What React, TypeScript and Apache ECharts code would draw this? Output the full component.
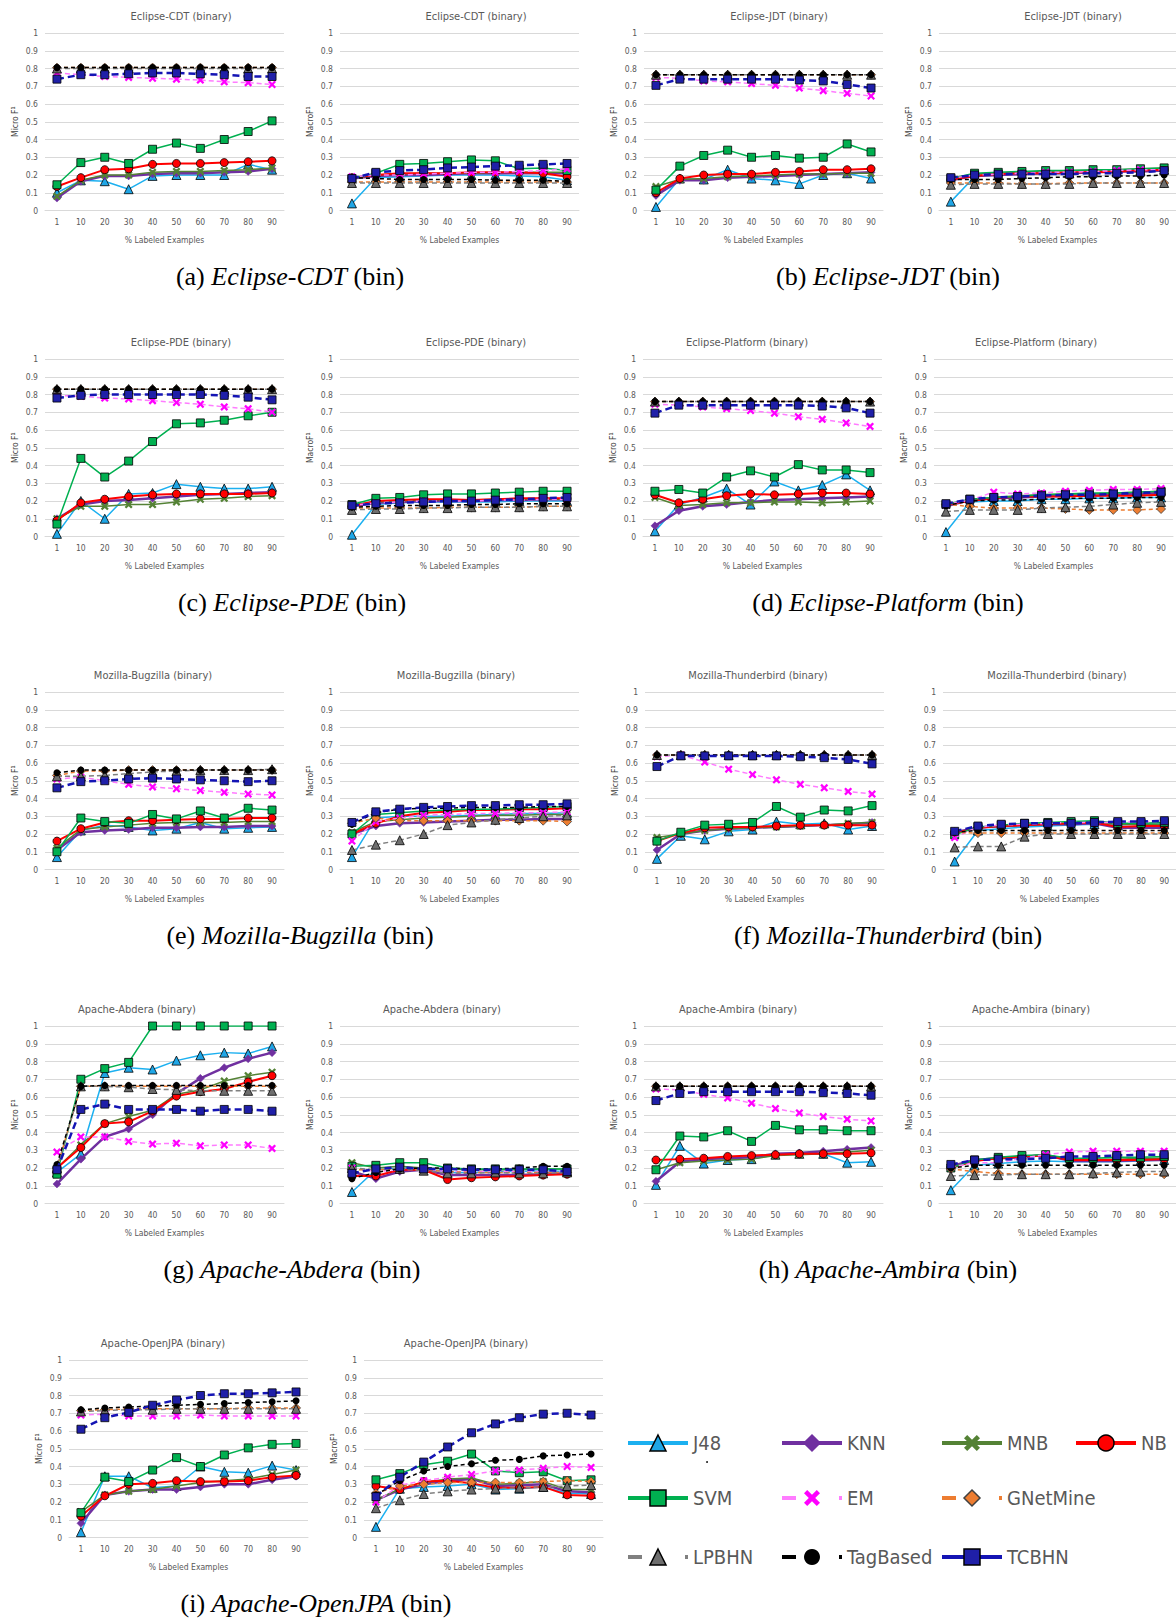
import React, { useEffect, useRef } from 'react';
import * as echarts from 'echarts';

const X_LABELS = ['1', '10', '20', '30', '40', '50', '60', '70', '80', '90'];
const METHODS = ['J48', 'KNN', 'MNB', 'NB', 'SVM', 'EM', 'GNetMine', 'LPBHN', 'TagBased', 'TCBHN'];

// each panel: rows in METHODS order
const cdtMicro = [
  [0.10, 0.17, 0.165, 0.12, 0.195, 0.20, 0.20, 0.20, 0.26, 0.23],
  [0.07, 0.165, 0.195, 0.195, 0.205, 0.21, 0.21, 0.215, 0.22, 0.235],
  [0.08, 0.17, 0.20, 0.20, 0.215, 0.22, 0.22, 0.225, 0.23, 0.24],
  [0.135, 0.185, 0.23, 0.235, 0.26, 0.265, 0.265, 0.27, 0.275, 0.28],
  [0.145, 0.27, 0.30, 0.265, 0.345, 0.38, 0.35, 0.40, 0.445, 0.505],
  [0.775, 0.765, 0.755, 0.75, 0.745, 0.74, 0.735, 0.725, 0.72, 0.71],
  [0.805, 0.805, 0.805, 0.805, 0.805, 0.805, 0.805, 0.805, 0.805, 0.805],
  [0.80, 0.80, 0.80, 0.80, 0.80, 0.80, 0.80, 0.80, 0.80, 0.80],
  [0.805, 0.805, 0.805, 0.805, 0.805, 0.805, 0.805, 0.805, 0.805, 0.805],
  [0.74, 0.765, 0.765, 0.77, 0.775, 0.775, 0.77, 0.765, 0.755, 0.755],
];
const cdtMacro = [
  [0.04, 0.185, 0.19, 0.195, 0.20, 0.20, 0.20, 0.195, 0.19, 0.17],
  [0.18, 0.195, 0.20, 0.20, 0.205, 0.21, 0.21, 0.21, 0.21, 0.21],
  [0.18, 0.20, 0.205, 0.21, 0.21, 0.21, 0.215, 0.215, 0.215, 0.215],
  [0.185, 0.20, 0.21, 0.21, 0.21, 0.215, 0.215, 0.215, 0.21, 0.19],
  [0.18, 0.21, 0.26, 0.265, 0.275, 0.285, 0.28, 0.235, 0.24, 0.225],
  [0.19, 0.20, 0.20, 0.205, 0.21, 0.215, 0.215, 0.22, 0.225, 0.235],
  [0.16, 0.16, 0.16, 0.16, 0.16, 0.16, 0.16, 0.16, 0.16, 0.16],
  [0.155, 0.155, 0.155, 0.155, 0.155, 0.155, 0.155, 0.155, 0.155, 0.155],
  [0.185, 0.18, 0.175, 0.175, 0.175, 0.175, 0.17, 0.17, 0.17, 0.165],
  [0.18, 0.215, 0.225, 0.23, 0.24, 0.245, 0.25, 0.255, 0.26, 0.265],
];
const jdtMicro = [
  [0.02, 0.18, 0.175, 0.23, 0.18, 0.17, 0.15, 0.20, 0.21, 0.18],
  [0.085, 0.17, 0.17, 0.185, 0.19, 0.195, 0.20, 0.205, 0.21, 0.215],
  [0.135, 0.175, 0.18, 0.19, 0.195, 0.20, 0.205, 0.205, 0.21, 0.21],
  [0.10, 0.18, 0.20, 0.205, 0.205, 0.215, 0.22, 0.23, 0.23, 0.235],
  [0.115, 0.25, 0.31, 0.34, 0.30, 0.31, 0.295, 0.30, 0.375, 0.33],
  [0.75, 0.745, 0.73, 0.725, 0.715, 0.705, 0.69, 0.675, 0.66, 0.645],
  [0.765, 0.765, 0.765, 0.765, 0.765, 0.765, 0.765, 0.765, 0.765, 0.765],
  [0.765, 0.765, 0.765, 0.765, 0.765, 0.765, 0.765, 0.765, 0.765, 0.765],
  [0.765, 0.765, 0.765, 0.765, 0.765, 0.765, 0.765, 0.765, 0.765, 0.765],
  [0.705, 0.74, 0.74, 0.74, 0.74, 0.74, 0.735, 0.73, 0.71, 0.69],
];
const jdtMacro = [
  [0.05, 0.19, 0.20, 0.205, 0.205, 0.21, 0.215, 0.22, 0.225, 0.23],
  [0.17, 0.195, 0.20, 0.205, 0.21, 0.21, 0.215, 0.22, 0.22, 0.225],
  [0.18, 0.205, 0.21, 0.215, 0.22, 0.225, 0.225, 0.23, 0.235, 0.24],
  [0.175, 0.195, 0.205, 0.21, 0.21, 0.215, 0.215, 0.22, 0.225, 0.23],
  [0.18, 0.21, 0.215, 0.22, 0.225, 0.225, 0.23, 0.23, 0.235, 0.24],
  [0.18, 0.20, 0.205, 0.21, 0.215, 0.215, 0.22, 0.225, 0.23, 0.23],
  [0.155, 0.155, 0.155, 0.15, 0.15, 0.155, 0.155, 0.155, 0.155, 0.155],
  [0.145, 0.15, 0.15, 0.15, 0.15, 0.15, 0.155, 0.155, 0.155, 0.155],
  [0.175, 0.175, 0.175, 0.18, 0.185, 0.19, 0.19, 0.195, 0.195, 0.20],
  [0.185, 0.20, 0.205, 0.205, 0.205, 0.205, 0.21, 0.21, 0.215, 0.225],
];
const pdeMicro = [
  [0.015, 0.20, 0.10, 0.24, 0.245, 0.295, 0.28, 0.27, 0.27, 0.28],
  [0.10, 0.18, 0.20, 0.205, 0.215, 0.225, 0.235, 0.24, 0.245, 0.25],
  [0.10, 0.17, 0.17, 0.18, 0.18, 0.195, 0.21, 0.215, 0.225, 0.23],
  [0.09, 0.19, 0.21, 0.225, 0.235, 0.24, 0.24, 0.24, 0.24, 0.245],
  [0.07, 0.44, 0.335, 0.425, 0.535, 0.635, 0.64, 0.655, 0.68, 0.70],
  [0.795, 0.79, 0.78, 0.775, 0.765, 0.755, 0.745, 0.73, 0.72, 0.70],
  [0.83, 0.83, 0.83, 0.83, 0.83, 0.83, 0.83, 0.83, 0.83, 0.83],
  [0.83, 0.83, 0.83, 0.83, 0.83, 0.83, 0.83, 0.83, 0.83, 0.83],
  [0.83, 0.83, 0.83, 0.83, 0.83, 0.83, 0.83, 0.83, 0.83, 0.83],
  [0.78, 0.795, 0.80, 0.80, 0.80, 0.80, 0.80, 0.795, 0.785, 0.77],
];
const pdeMacro = [
  [0.01, 0.18, 0.19, 0.195, 0.195, 0.195, 0.195, 0.20, 0.20, 0.20],
  [0.17, 0.19, 0.195, 0.20, 0.20, 0.20, 0.205, 0.205, 0.21, 0.21],
  [0.18, 0.195, 0.20, 0.205, 0.205, 0.205, 0.21, 0.21, 0.21, 0.21],
  [0.17, 0.20, 0.205, 0.21, 0.21, 0.205, 0.21, 0.215, 0.215, 0.215],
  [0.18, 0.215, 0.22, 0.235, 0.24, 0.24, 0.245, 0.25, 0.255, 0.255],
  [0.175, 0.19, 0.195, 0.20, 0.20, 0.20, 0.205, 0.205, 0.21, 0.21],
  [0.16, 0.16, 0.16, 0.16, 0.165, 0.165, 0.165, 0.165, 0.17, 0.17],
  [0.15, 0.155, 0.155, 0.16, 0.16, 0.165, 0.165, 0.165, 0.17, 0.17],
  [0.165, 0.17, 0.175, 0.175, 0.175, 0.18, 0.18, 0.185, 0.185, 0.185],
  [0.175, 0.185, 0.19, 0.195, 0.20, 0.20, 0.205, 0.21, 0.215, 0.22],
];
const platMicro = [
  [0.03, 0.18, 0.22, 0.27, 0.18, 0.31, 0.26, 0.29, 0.35, 0.26],
  [0.06, 0.145, 0.17, 0.18, 0.195, 0.205, 0.21, 0.215, 0.22, 0.225],
  [0.22, 0.175, 0.18, 0.19, 0.19, 0.195, 0.195, 0.19, 0.195, 0.20],
  [0.235, 0.19, 0.21, 0.23, 0.24, 0.235, 0.24, 0.245, 0.245, 0.24],
  [0.255, 0.265, 0.245, 0.335, 0.37, 0.335, 0.405, 0.375, 0.375, 0.36],
  [0.745, 0.74, 0.73, 0.72, 0.71, 0.695, 0.675, 0.66, 0.64, 0.62],
  [0.76, 0.76, 0.76, 0.76, 0.76, 0.76, 0.76, 0.76, 0.76, 0.76],
  [0.76, 0.76, 0.76, 0.76, 0.76, 0.76, 0.76, 0.76, 0.76, 0.76],
  [0.76, 0.76, 0.76, 0.76, 0.76, 0.76, 0.76, 0.76, 0.76, 0.76],
  [0.695, 0.74, 0.74, 0.74, 0.74, 0.74, 0.74, 0.735, 0.725, 0.695],
];
const platMacro = [
  [0.025, 0.195, 0.20, 0.20, 0.21, 0.21, 0.215, 0.215, 0.22, 0.22],
  [0.17, 0.205, 0.215, 0.22, 0.225, 0.23, 0.23, 0.235, 0.24, 0.245],
  [0.18, 0.205, 0.22, 0.23, 0.235, 0.24, 0.24, 0.245, 0.25, 0.255],
  [0.18, 0.20, 0.215, 0.225, 0.225, 0.225, 0.23, 0.23, 0.23, 0.235],
  [0.18, 0.21, 0.22, 0.225, 0.235, 0.24, 0.245, 0.245, 0.25, 0.255],
  [0.18, 0.205, 0.25, 0.24, 0.245, 0.255, 0.26, 0.265, 0.265, 0.27],
  [0.18, 0.17, 0.16, 0.16, 0.16, 0.155, 0.15, 0.15, 0.15, 0.155],
  [0.14, 0.15, 0.15, 0.15, 0.16, 0.165, 0.17, 0.18, 0.19, 0.195],
  [0.175, 0.20, 0.205, 0.205, 0.21, 0.215, 0.215, 0.215, 0.22, 0.22],
  [0.185, 0.21, 0.22, 0.225, 0.23, 0.235, 0.235, 0.24, 0.245, 0.25],
];
const bugMicro = [
  [0.07, 0.22, 0.25, 0.24, 0.22, 0.23, 0.265, 0.23, 0.235, 0.24],
  [0.11, 0.21, 0.22, 0.225, 0.235, 0.235, 0.24, 0.24, 0.245, 0.245],
  [0.12, 0.225, 0.24, 0.25, 0.26, 0.265, 0.265, 0.265, 0.27, 0.27],
  [0.16, 0.23, 0.265, 0.275, 0.275, 0.28, 0.285, 0.285, 0.29, 0.29],
  [0.10, 0.29, 0.27, 0.26, 0.31, 0.285, 0.33, 0.29, 0.345, 0.335],
  [0.51, 0.52, 0.50, 0.48, 0.465, 0.455, 0.445, 0.435, 0.425, 0.42],
  [0.53, 0.555, 0.555, 0.56, 0.56, 0.56, 0.56, 0.56, 0.56, 0.56],
  [0.525, 0.525, 0.53, 0.54, 0.55, 0.555, 0.56, 0.56, 0.56, 0.565],
  [0.545, 0.56, 0.56, 0.56, 0.56, 0.56, 0.56, 0.56, 0.56, 0.56],
  [0.46, 0.495, 0.50, 0.51, 0.515, 0.51, 0.505, 0.50, 0.495, 0.50],
];
const bugMacro = [
  [0.07, 0.29, 0.30, 0.30, 0.30, 0.305, 0.31, 0.315, 0.315, 0.32],
  [0.20, 0.245, 0.26, 0.265, 0.27, 0.275, 0.28, 0.28, 0.285, 0.285],
  [0.21, 0.27, 0.28, 0.29, 0.295, 0.30, 0.305, 0.305, 0.31, 0.31],
  [0.20, 0.26, 0.30, 0.32, 0.325, 0.335, 0.335, 0.34, 0.34, 0.345],
  [0.20, 0.31, 0.32, 0.33, 0.335, 0.34, 0.34, 0.345, 0.35, 0.355],
  [0.16, 0.27, 0.29, 0.305, 0.31, 0.315, 0.315, 0.32, 0.32, 0.325],
  [0.26, 0.29, 0.275, 0.275, 0.275, 0.275, 0.275, 0.275, 0.275, 0.27],
  [0.11, 0.14, 0.165, 0.20, 0.25, 0.265, 0.28, 0.29, 0.30, 0.305],
  [0.255, 0.32, 0.34, 0.345, 0.345, 0.35, 0.35, 0.35, 0.355, 0.355],
  [0.265, 0.325, 0.34, 0.35, 0.355, 0.36, 0.36, 0.365, 0.365, 0.37],
];
const tbMicro = [
  [0.06, 0.19, 0.17, 0.215, 0.225, 0.27, 0.255, 0.26, 0.225, 0.245],
  [0.11, 0.20, 0.22, 0.23, 0.235, 0.24, 0.245, 0.25, 0.255, 0.265],
  [0.18, 0.20, 0.22, 0.23, 0.235, 0.24, 0.245, 0.25, 0.26, 0.265],
  [0.16, 0.205, 0.235, 0.24, 0.24, 0.245, 0.25, 0.25, 0.25, 0.25],
  [0.16, 0.21, 0.25, 0.255, 0.265, 0.355, 0.295, 0.335, 0.33, 0.36],
  [0.635, 0.645, 0.605, 0.565, 0.535, 0.505, 0.48, 0.46, 0.44, 0.425],
  [0.645, 0.645, 0.645, 0.645, 0.645, 0.645, 0.645, 0.645, 0.645, 0.645],
  [0.645, 0.645, 0.645, 0.645, 0.645, 0.645, 0.645, 0.645, 0.645, 0.645],
  [0.645, 0.645, 0.645, 0.645, 0.645, 0.645, 0.645, 0.645, 0.645, 0.645],
  [0.58, 0.64, 0.64, 0.64, 0.64, 0.64, 0.635, 0.63, 0.62, 0.595],
];
const tbMacro = [
  [0.045, 0.22, 0.23, 0.24, 0.245, 0.25, 0.255, 0.25, 0.255, 0.255],
  [0.21, 0.235, 0.245, 0.25, 0.255, 0.255, 0.26, 0.235, 0.235, 0.235],
  [0.205, 0.235, 0.245, 0.25, 0.255, 0.26, 0.265, 0.255, 0.255, 0.255],
  [0.205, 0.235, 0.245, 0.25, 0.255, 0.26, 0.265, 0.24, 0.245, 0.245],
  [0.195, 0.24, 0.25, 0.26, 0.265, 0.27, 0.275, 0.26, 0.26, 0.265],
  [0.18, 0.24, 0.25, 0.255, 0.26, 0.265, 0.265, 0.265, 0.27, 0.27],
  [0.21, 0.205, 0.205, 0.205, 0.205, 0.205, 0.205, 0.205, 0.205, 0.205],
  [0.125, 0.13, 0.13, 0.185, 0.20, 0.20, 0.20, 0.20, 0.20, 0.20],
  [0.21, 0.22, 0.22, 0.22, 0.22, 0.22, 0.22, 0.22, 0.22, 0.22],
  [0.215, 0.245, 0.255, 0.26, 0.26, 0.26, 0.265, 0.27, 0.27, 0.275],
];
const abdMicro = [
  [0.175, 0.28, 0.735, 0.765, 0.755, 0.805, 0.835, 0.85, 0.845, 0.885],
  [0.11, 0.25, 0.375, 0.42, 0.50, 0.62, 0.705, 0.765, 0.815, 0.85],
  [0.20, 0.33, 0.45, 0.49, 0.525, 0.615, 0.64, 0.69, 0.72, 0.74],
  [0.20, 0.315, 0.45, 0.46, 0.52, 0.605, 0.63, 0.645, 0.685, 0.72],
  [0.165, 0.70, 0.76, 0.795, 1.0, 1.0, 1.0, 1.0, 1.0, 1.0],
  [0.29, 0.375, 0.375, 0.35, 0.335, 0.34, 0.325, 0.33, 0.33, 0.31],
  [0.20, 0.66, 0.66, 0.66, 0.66, 0.66, 0.66, 0.66, 0.66, 0.66],
  [0.20, 0.66, 0.66, 0.655, 0.645, 0.64, 0.635, 0.635, 0.635, 0.635],
  [0.22, 0.66, 0.665, 0.665, 0.665, 0.665, 0.665, 0.665, 0.665, 0.665],
  [0.19, 0.53, 0.56, 0.53, 0.53, 0.53, 0.52, 0.53, 0.53, 0.52],
];
const abdMacro = [
  [0.065, 0.19, 0.20, 0.20, 0.175, 0.175, 0.18, 0.18, 0.185, 0.18],
  [0.18, 0.14, 0.18, 0.19, 0.16, 0.16, 0.16, 0.16, 0.165, 0.17],
  [0.23, 0.20, 0.21, 0.20, 0.195, 0.19, 0.19, 0.19, 0.195, 0.195],
  [0.155, 0.155, 0.19, 0.19, 0.135, 0.145, 0.15, 0.155, 0.16, 0.165],
  [0.21, 0.215, 0.23, 0.23, 0.20, 0.195, 0.195, 0.195, 0.195, 0.195],
  [0.20, 0.18, 0.19, 0.195, 0.18, 0.18, 0.18, 0.18, 0.18, 0.18],
  [0.19, 0.19, 0.195, 0.19, 0.18, 0.175, 0.175, 0.175, 0.175, 0.175],
  [0.20, 0.19, 0.195, 0.185, 0.17, 0.17, 0.175, 0.17, 0.17, 0.175],
  [0.14, 0.175, 0.195, 0.20, 0.20, 0.195, 0.195, 0.20, 0.21, 0.21],
  [0.17, 0.195, 0.205, 0.195, 0.195, 0.19, 0.19, 0.19, 0.19, 0.18],
];
const ambMicro = [
  [0.105, 0.325, 0.225, 0.245, 0.25, 0.275, 0.28, 0.28, 0.23, 0.235],
  [0.125, 0.235, 0.25, 0.255, 0.26, 0.28, 0.285, 0.295, 0.305, 0.315],
  [0.19, 0.23, 0.24, 0.245, 0.25, 0.27, 0.275, 0.28, 0.29, 0.30],
  [0.245, 0.25, 0.255, 0.265, 0.27, 0.275, 0.28, 0.28, 0.28, 0.285],
  [0.19, 0.38, 0.375, 0.41, 0.35, 0.44, 0.415, 0.415, 0.41, 0.41],
  [0.645, 0.64, 0.615, 0.595, 0.565, 0.535, 0.51, 0.49, 0.475, 0.465],
  [0.66, 0.66, 0.66, 0.66, 0.66, 0.66, 0.66, 0.66, 0.66, 0.66],
  [0.66, 0.66, 0.66, 0.66, 0.66, 0.66, 0.66, 0.66, 0.66, 0.66],
  [0.66, 0.66, 0.66, 0.66, 0.66, 0.66, 0.66, 0.66, 0.66, 0.66],
  [0.58, 0.62, 0.63, 0.63, 0.63, 0.63, 0.63, 0.625, 0.62, 0.61],
];
const ambMacro = [
  [0.075, 0.215, 0.225, 0.235, 0.24, 0.235, 0.235, 0.235, 0.24, 0.245],
  [0.21, 0.245, 0.255, 0.26, 0.275, 0.24, 0.24, 0.24, 0.245, 0.245],
  [0.20, 0.24, 0.255, 0.265, 0.275, 0.25, 0.25, 0.25, 0.255, 0.255],
  [0.20, 0.24, 0.255, 0.265, 0.27, 0.245, 0.245, 0.245, 0.245, 0.25],
  [0.20, 0.245, 0.26, 0.27, 0.275, 0.255, 0.255, 0.26, 0.26, 0.265],
  [0.205, 0.23, 0.23, 0.255, 0.275, 0.29, 0.295, 0.295, 0.295, 0.295],
  [0.195, 0.18, 0.17, 0.165, 0.165, 0.165, 0.165, 0.165, 0.165, 0.165],
  [0.155, 0.16, 0.16, 0.165, 0.165, 0.165, 0.17, 0.175, 0.18, 0.18],
  [0.20, 0.215, 0.215, 0.215, 0.215, 0.215, 0.215, 0.215, 0.215, 0.215],
  [0.22, 0.245, 0.25, 0.25, 0.255, 0.265, 0.265, 0.27, 0.275, 0.275],
];
const jpaMicro = [
  [0.03, 0.345, 0.345, 0.28, 0.29, 0.40, 0.37, 0.365, 0.405, 0.38],
  [0.08, 0.24, 0.26, 0.27, 0.27, 0.285, 0.30, 0.30, 0.325, 0.345],
  [0.145, 0.24, 0.26, 0.27, 0.29, 0.31, 0.32, 0.33, 0.355, 0.38],
  [0.12, 0.235, 0.30, 0.305, 0.32, 0.315, 0.315, 0.32, 0.34, 0.35],
  [0.14, 0.34, 0.315, 0.38, 0.45, 0.40, 0.465, 0.505, 0.525, 0.53],
  [0.69, 0.695, 0.685, 0.685, 0.685, 0.69, 0.685, 0.685, 0.685, 0.685],
  [0.715, 0.72, 0.725, 0.725, 0.725, 0.725, 0.725, 0.73, 0.73, 0.73],
  [0.71, 0.715, 0.72, 0.72, 0.725, 0.725, 0.725, 0.725, 0.725, 0.725],
  [0.72, 0.73, 0.735, 0.74, 0.745, 0.75, 0.755, 0.76, 0.765, 0.77],
  [0.61, 0.675, 0.705, 0.745, 0.775, 0.80, 0.81, 0.81, 0.815, 0.82],
];
const jpaMacro = [
  [0.06, 0.275, 0.285, 0.29, 0.30, 0.27, 0.275, 0.285, 0.25, 0.245],
  [0.21, 0.27, 0.30, 0.32, 0.33, 0.29, 0.295, 0.30, 0.26, 0.255],
  [0.21, 0.275, 0.31, 0.33, 0.335, 0.30, 0.305, 0.315, 0.27, 0.27],
  [0.29, 0.27, 0.315, 0.32, 0.305, 0.28, 0.28, 0.285, 0.24, 0.235],
  [0.325, 0.36, 0.41, 0.43, 0.47, 0.375, 0.365, 0.37, 0.32, 0.325],
  [0.20, 0.295, 0.32, 0.34, 0.355, 0.375, 0.38, 0.39, 0.40, 0.395],
  [0.25, 0.29, 0.30, 0.31, 0.31, 0.31, 0.31, 0.315, 0.32, 0.315],
  [0.165, 0.21, 0.245, 0.26, 0.27, 0.275, 0.28, 0.285, 0.29, 0.295],
  [0.24, 0.32, 0.375, 0.40, 0.415, 0.435, 0.44, 0.46, 0.465, 0.47],
  [0.23, 0.34, 0.425, 0.51, 0.59, 0.64, 0.675, 0.695, 0.70, 0.69],
];

const PANEL_TITLES = [
  'Eclipse-CDT (binary)', 'Eclipse-CDT (binary)', 'Eclipse-JDT (binary)', 'Eclipse-JDT (binary)',
  'Eclipse-PDE (binary)', 'Eclipse-PDE (binary)', 'Eclipse-Platform (binary)', 'Eclipse-Platform (binary)',
  'Mozilla-Bugzilla (binary)', 'Mozilla-Bugzilla (binary)', 'Mozilla-Thunderbird (binary)', 'Mozilla-Thunderbird (binary)',
  'Apache-Abdera (binary)', 'Apache-Abdera (binary)', 'Apache-Ambira (binary)', 'Apache-Ambira (binary)',
  'Apache-OpenJPA (binary)', 'Apache-OpenJPA (binary)',
];
const PANEL_DATA = [
  cdtMicro, cdtMacro, jdtMicro, jdtMacro, pdeMicro, pdeMacro, platMicro, platMacro,
  bugMicro, bugMacro, tbMicro, tbMacro, abdMicro, abdMacro, ambMicro, ambMacro, jpaMicro, jpaMacro,
];
const CAPTION_LABELS = ['(a)', '(b)', '(c)', '(d)', '(e)', '(f)', '(g)', '(h)', '(i)'];
const CAPTION_NAMES = [
  'Eclipse-CDT', 'Eclipse-JDT', 'Eclipse-PDE', 'Eclipse-Platform', 'Mozilla-Bugzilla',
  'Mozilla-Thunderbird', 'Apache-Abdera', 'Apache-Ambira', 'Apache-OpenJPA',
];

// ---- layout (pixels) ----
const ROW_TOPS = [33, 359, 692, 1026, 1360];
const PLOT_W = 239;
const PLOT_H = 177.5;
const GRID_LEFTS = [
  45, 340, 644, 939,
  45, 340, 643, 934,
  45, 340, 645, 943,
  45, 340, 644, 939,
  69, 364,
];
const TITLE_XS = [
  181, 476, 779, 1073,
  181, 476, 747, 1036,
  153, 456, 758, 1057,
  137, 442, 738, 1031,
  163, 466,
];
const CAPTION_XS = [290, 888, 292, 888, 300, 888, 292, 888, 316];

const NARROW = "'Liberation Sans Narrow', 'Arial Narrow', 'DejaVu Sans Condensed', sans-serif";
const SERIF = "'Liberation Serif', 'Times New Roman', serif";
const TXT = '#595959';
const XPATH = 'path://M0,2 L2,0 L5,3 L8,0 L10,2 L7,5 L10,8 L8,10 L5,7 L2,10 L0,8 L3,5 Z';

const STYLES: any = {
  J48: { line: '#1CB0F0', width: 1.5, type: 'solid', symbol: 'triangle', size: 9, fill: '#1FA6E6', border: '#000', bw: 0.8 },
  KNN: { line: '#7030A0', width: 2.5, type: 'solid', symbol: 'diamond', size: 8, fill: '#7030A0', border: '#7030A0', bw: 0.5 },
  MNB: { line: '#548235', width: 1.5, type: 'solid', symbol: XPATH, size: 8, fill: '#548235', border: '#548235', bw: 0 },
  NB: { line: '#FF0000', width: 2, type: 'solid', symbol: 'circle', size: 8, fill: '#FF0000', border: '#000', bw: 0.8 },
  SVM: { line: '#00B050', width: 1.5, type: 'solid', symbol: 'rect', size: 8, fill: '#00B050', border: '#000', bw: 0.8 },
  EM: { line: '#FF7CFF', width: 1.5, type: [5, 3], symbol: XPATH, size: 8, fill: '#FF00FF', border: '#FF00FF', bw: 0 },
  GNetMine: { line: '#ED7D31', width: 1.5, type: [4, 3], symbol: 'diamond', size: 9, fill: '#ED7D31', border: '#404040', bw: 0.8 },
  LPBHN: { line: '#808080', width: 1.5, type: [5, 3], symbol: 'triangle', size: 9, fill: '#6E6E6E', border: '#000', bw: 0.8 },
  TagBased: { line: '#000000', width: 1.5, type: [4, 3], symbol: 'circle', size: 7, fill: '#000', border: '#000', bw: 0 },
  TCBHN: { line: '#1414B4', width: 2.5, type: [7, 4], symbol: 'rect', size: 8, fill: '#1F1FA8', border: '#000', bw: 0.8 },
};

const LEGEND_POS: [string, number, number, boolean][] = [
  ['J48', 626, 1443, false], ['KNN', 780, 1443, false], ['MNB', 940, 1443, false], ['NB', 1074, 1443, false],
  ['SVM', 626, 1498, false], ['EM', 780, 1498, true], ['GNetMine', 940, 1498, true],
  ['LPBHN', 626, 1557, true], ['TagBased', 780, 1557, true], ['TCBHN', 940, 1557, false],
];

function buildOption() {
  const grid: any[] = [];
  const xAxis: any[] = [];
  const yAxis: any[] = [];
  const series: any[] = [];
  const graphic: any[] = [];

  PANEL_DATA.forEach((data, i) => {
    const row = Math.floor(i / 4);
    const top = ROW_TOPS[row];
    const isMicro = i % 2 === 0;
    grid.push({ left: GRID_LEFTS[i], top, width: PLOT_W, height: PLOT_H, containLabel: false });
    xAxis.push({
      type: 'category', gridIndex: i, data: X_LABELS, boundaryGap: true,
      axisLine: { show: true, lineStyle: { color: '#D9D9D9', width: 1 } },
      axisTick: { show: false },
      axisLabel: { color: TXT, fontSize: 8.5, fontFamily: NARROW, margin: 7, interval: 0 },
      name: '% Labeled Examples', nameLocation: 'middle', nameGap: 25,
      nameTextStyle: { color: TXT, fontSize: 8.5, fontFamily: NARROW },
    });
    yAxis.push({
      type: 'value', gridIndex: i, min: 0, max: 1, interval: 0.1,
      axisLine: { show: false }, axisTick: { show: false },
      splitLine: { lineStyle: { color: '#D9D9D9', width: 1 } },
      axisLabel: {
        color: TXT, fontSize: 8.5, fontFamily: NARROW, margin: 7,
        formatter: (v: number) => String(Math.round(v * 10) / 10),
      },
      name: isMicro ? 'Micro F¹' : 'MacroF¹', nameLocation: 'middle', nameGap: 26,
      nameTextStyle: { color: '#404040', fontSize: 8.5, fontFamily: NARROW },
    });
    METHODS.forEach((m, k) => {
      const s = STYLES[m];
      series.push({
        type: 'line', name: m, xAxisIndex: i, yAxisIndex: i, data: data[k],
        symbol: s.symbol, symbolSize: s.size, showSymbol: true, z: 3 + k,
        lineStyle: { color: s.line, width: s.width, type: s.type },
        itemStyle: { color: s.fill, borderColor: s.border, borderWidth: s.bw },
        emphasis: { disabled: true }, silent: true,
      });
    });
    graphic.push({
      type: 'text', x: TITLE_XS[i], y: top - 17,
      style: {
        text: PANEL_TITLES[i], fill: TXT, fontSize: 11, fontFamily: NARROW,
        align: 'center', verticalAlign: 'middle', textAlign: 'center', textVerticalAlign: 'middle',
      },
    });
  });

  CAPTION_LABELS.forEach((lab, c) => {
    const row = Math.floor(c / 2);
    const y = ROW_TOPS[row] + PLOT_H + 66;
    graphic.push({
      type: 'text', x: CAPTION_XS[c], y,
      style: {
        text: `{n|${lab} }{i|${CAPTION_NAMES[c]}}{n| (bin)}`,
        rich: {
          n: { fill: '#000', fontSize: 26, fontFamily: SERIF },
          i: { fill: '#000', fontSize: 26, fontFamily: SERIF, fontStyle: 'italic' },
        },
        align: 'center', verticalAlign: 'middle', textAlign: 'center', textVerticalAlign: 'middle',
      },
    });
  });
  graphic.push({ type: 'circle', shape: { cx: 707, cy: 1462, r: 0.9 }, style: { fill: '#000' } });

  const legend = LEGEND_POS.map(([name, left, cy, dashed]) => ({
    data: [name], left, top: cy - 10, padding: 0, itemWidth: 60, itemHeight: 20, itemGap: 0,
    selectedMode: false,
    textStyle: { color: TXT, fontSize: 20, fontFamily: NARROW },
    lineStyle: { width: 4, type: dashed ? [14, 43] : 'solid' },
    itemStyle: { borderWidth: STYLES[name].bw > 0 ? 1.5 : 0 },
  }));

  return {
    animation: false,
    backgroundColor: '#ffffff',
    grid, xAxis, yAxis, series, graphic, legend,
  };
}

export default function App() {
  const ref = useRef<HTMLDivElement>(null);
  useEffect(() => {
    if (!ref.current) return;
    const chart = echarts.init(ref.current, undefined, { renderer: 'svg' });
    chart.setOption(buildOption() as any);
    return () => chart.dispose();
  }, []);
  return (
    <div
      ref={ref}
      style={{ position: 'absolute', left: 0, top: 0, width: 1176, height: 1621, background: '#fff' }}
    />
  );
}
